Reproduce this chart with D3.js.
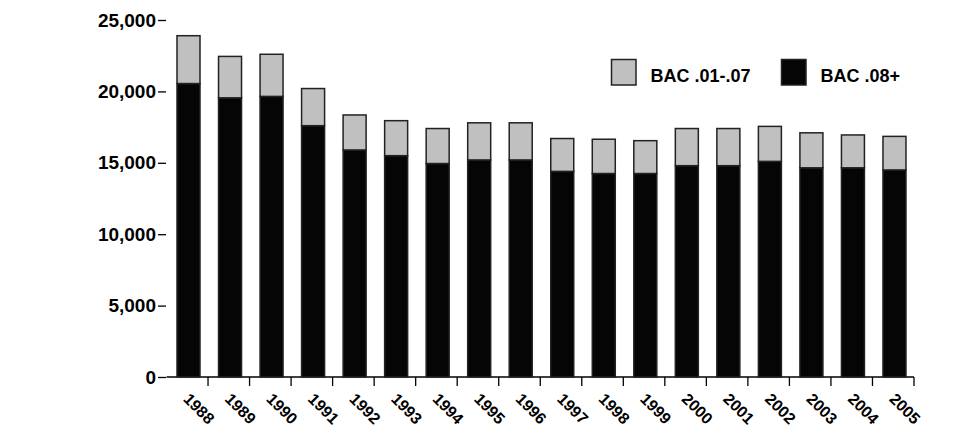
<!DOCTYPE html>
<html>
<head>
<meta charset="utf-8">
<script src="https://cdn.jsdelivr.net/npm/d3@7"></script>
<style>
  html, body { margin: 0; padding: 0; background: #fff; }
  svg { display: block; font-family: "Liberation Sans", Arial, sans-serif; font-weight: bold; }
</style>
</head>
<body>
<svg id="chart" width="973" height="431"></svg>
<script>
const years = ["1988","1989","1990","1991","1992","1993","1994","1995","1996","1997","1998","1999","2000","2001","2002","2003","2004","2005"];
const bac08 = [20550,19550,19650,17600,15900,15500,14950,15200,15200,14400,14250,14250,14800,14800,15100,14650,14650,14500];
const bac0107 = [3350,2900,2950,2600,2450,2450,2450,2600,2600,2300,2400,2300,2600,2600,2450,2450,2300,2350];
const yTicks = [0,5000,10000,15000,20000,25000];
const seriesNames = ["BAC .01-.07","BAC .08+"];
const seriesColors = ["#c0c0c0","#050505"];

const svg = d3.select("#chart");
const x = d3.scaleBand().domain(years).range([166.5, 914]).padding(0);
const y = d3.scaleLinear().domain([0, 25000]).range([377, 20]);

// Y axis: tick marks and labels only (no vertical line)
const yAxis = d3.axisLeft(y).tickValues(yTicks).tickSize(8).tickPadding(2)
  .tickFormat(d3.format(","));
const gy = svg.append("g").attr("transform", "translate(166,0)").call(yAxis);
gy.select(".domain").remove();
gy.selectAll(".tick line").attr("stroke", "#000").attr("stroke-width", 1.3);
gy.selectAll(".tick text").attr("font-size", 19).attr("font-weight", "bold")
  .attr("fill", "#000").attr("font-family", "Liberation Sans, Arial, sans-serif");

// X axis line + ticks at band right edges
const gx = svg.append("g");
gx.append("line").attr("x1", x.range()[0]).attr("x2", x.range()[1])
  .attr("y1", y(0)).attr("y2", y(0)).attr("stroke", "#000").attr("stroke-width", 1.3);
gx.selectAll("line.tk").data(years).join("line").attr("class", "tk")
  .attr("x1", d => x(d) + x.bandwidth()).attr("x2", d => x(d) + x.bandwidth())
  .attr("y1", y(0)).attr("y2", y(0) + 9).attr("stroke", "#000").attr("stroke-width", 1.3);

const barW = 23;
const barOff = 22 - barW / 2;

// Stacked bars
const stackData = years.map((yr, i) => ({year: yr, low: bac08[i], high: bac0107[i]}));
const bars = svg.append("g");
bars.selectAll("rect.lo").data(stackData).join("rect").attr("class", "lo")
  .attr("x", d => x(d.year) + barOff).attr("width", barW)
  .attr("y", d => y(d.low)).attr("height", d => y(0) - y(d.low))
  .attr("fill", seriesColors[1]).attr("stroke", "#222").attr("stroke-width", 1.5);
bars.selectAll("rect.hi").data(stackData).join("rect").attr("class", "hi")
  .attr("x", d => x(d.year) + barOff).attr("width", barW)
  .attr("y", d => y(d.low + d.high)).attr("height", d => y(d.low) - y(d.low + d.high))
  .attr("fill", seriesColors[0]).attr("stroke", "#222").attr("stroke-width", 1.5);

// Rotated year labels
svg.append("g").selectAll("text").data(years).join("text")
  .attr("transform", d => `translate(${x(d) + 22 - 6},400) rotate(45)`)
  .attr("font-size", 16).attr("fill", "#000")
  .text(d => d);

// Legend
const legX = [611.5, 781.5];
const lg = svg.append("g");
seriesNames.forEach((name, i) => {
  lg.append("rect").attr("x", legX[i]).attr("y", 59.5).attr("width", 24.5).attr("height", 25.5)
    .attr("fill", seriesColors[i]).attr("stroke", "#222").attr("stroke-width", 1.5);
  lg.append("text").attr("x", legX[i] + 39).attr("y", 81.5)
    .attr("font-size", 18).attr("fill", "#000").text(name);
});
</script>
</body>
</html>
